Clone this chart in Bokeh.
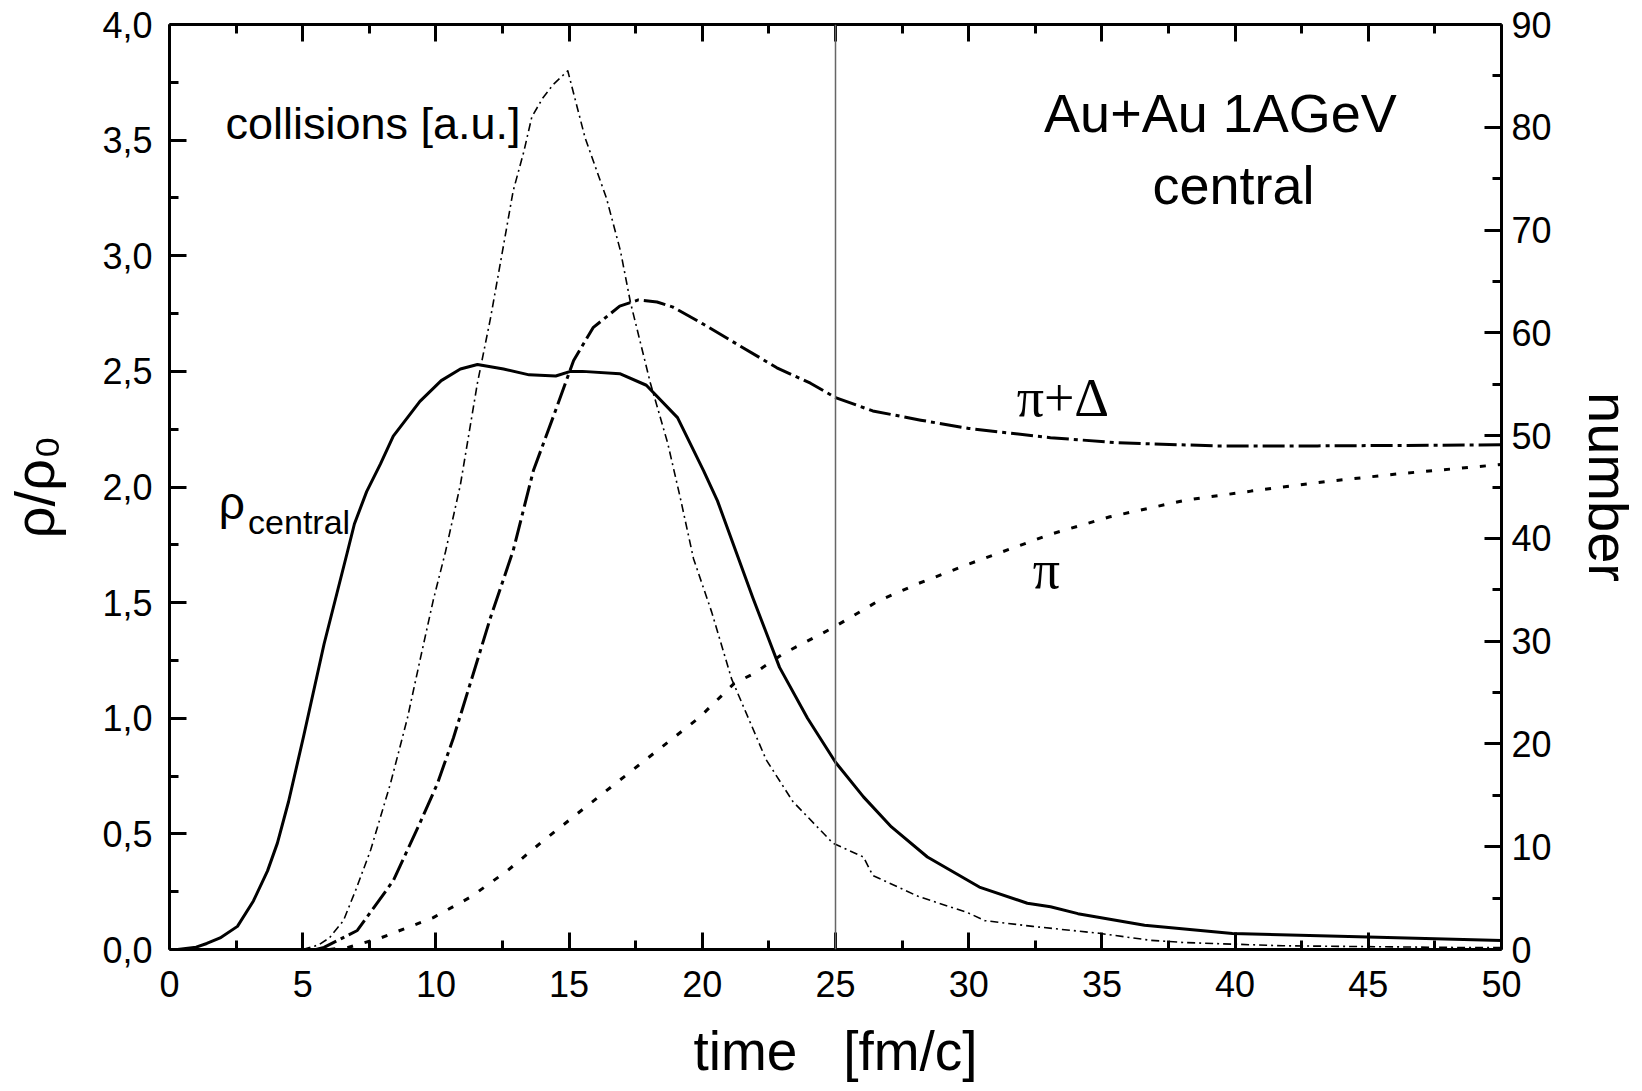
from bokeh.plotting import figure
from bokeh.models import Range1d, LinearAxis, FixedTicker, Span, Label, CustomJSTickFormatter
from bokeh.embed import file_html
from bokeh.resources import INLINE

# ---- data ----
rho_t = [0.3, 1.0, 1.4, 1.9, 2.55, 3.15, 3.68, 4.05, 4.47, 5.03, 5.8, 6.68, 6.94, 7.4, 7.92, 8.4,
         9.4, 10.2, 10.92, 11.56, 12.05, 12.54, 13.5, 14.5, 15.05, 15.5, 16.9, 17.9, 19.07, 20.05,
         20.57, 21.9, 22.9, 23.95, 25.0, 26.05, 27.1, 28.45, 30.4, 32.2, 33.07, 34.1, 36.6, 39.9, 45.0, 50.0]
rho_v = [0.0, 0.01, 0.026, 0.05, 0.10, 0.21, 0.34, 0.46, 0.64, 0.92, 1.32, 1.72, 1.84, 1.98, 2.10, 2.22,
         2.37, 2.46, 2.51, 2.53, 2.52, 2.51, 2.485, 2.48, 2.50, 2.50, 2.49, 2.44, 2.30, 2.07,
         1.94, 1.52, 1.22, 1.00, 0.81, 0.66, 0.53, 0.40, 0.27, 0.20, 0.185, 0.155, 0.105, 0.069, 0.054, 0.039]

coll_t = [5.0, 5.6, 6.0, 6.53, 7.0, 7.55, 8.3, 8.93, 9.42, 9.9, 10.36, 10.92, 11.56, 12.05, 12.5, 12.9,
          13.3, 13.6, 14.0, 14.4, 14.95, 15.6, 16.4, 16.93, 17.3, 18.05, 18.7, 19.18, 19.67, 20.35, 21.1,
          22.4, 23.4, 24.9, 26.05, 26.4, 28.1, 29.95, 30.6, 32.4, 34.9, 36.8, 38.1, 41.8, 48.1, 50.0]
coll_v = [0.0, 0.02, 0.05, 0.125, 0.26, 0.43, 0.72, 1.00, 1.26, 1.51, 1.72, 2.01, 2.45, 2.73, 3.02, 3.28,
          3.45, 3.60, 3.68, 3.74, 3.80, 3.51, 3.25, 3.02, 2.80, 2.45, 2.19, 1.95, 1.69, 1.46, 1.17,
          0.82, 0.64, 0.46, 0.40, 0.32, 0.23, 0.16, 0.125, 0.10, 0.07, 0.04, 0.03, 0.016, 0.009, 0.008]

pid_t = [5.5, 5.8, 7.05, 8.4, 9.4, 10.05, 10.66, 11.4, 12.05, 12.9, 13.66, 14.4, 15.17, 15.9, 16.9,
         17.6, 18.3, 18.9, 20.0, 21.3, 22.8, 24.06, 25.0, 26.4, 28.2, 30.0, 33.07, 35.6, 39.3, 43.1, 50.0]
pid_n = [0.0, 0.2, 1.85, 6.7, 12.3, 16.1, 20.6, 26.8, 32.3, 38.8, 46.6, 51.8, 57.3, 60.5, 62.6,
         63.2, 63.0, 62.5, 60.9, 58.9, 56.6, 55.1, 53.7, 52.4, 51.5, 50.7, 49.8, 49.3, 49.0, 49.0, 49.1]

pi_t = [6.0, 6.7, 7.9, 9.9, 11.3, 12.7, 13.9, 15.3, 17.6, 19.9, 21.2, 21.9, 23.05, 24.9, 26.6, 28.1,
        30.0, 33.07, 35.3, 38.1, 40.6, 43.5, 46.2, 49.6, 50.0]
pi_n = [0.0, 0.2, 1.1, 3.1, 5.1, 7.7, 10.3, 13.2, 17.9, 22.6, 25.9, 26.8, 28.8, 31.3, 33.9, 35.6,
        37.5, 40.4, 42.1, 43.7, 44.6, 45.55, 46.3, 47.1, 47.2]

vline_t = 25

x_ticks = [0, 5, 10, 15, 20, 25, 30, 35, 40, 45, 50]
x_minor = [2.5, 7.5, 12.5, 17.5, 22.5, 27.5, 32.5, 37.5, 42.5, 47.5]
left_ticks = [0.0, 0.5, 1.0, 1.5, 2.0, 2.5, 3.0, 3.5, 4.0]
left_labels = ["0,0", "0,5", "1,0", "1,5", "2,0", "2,5", "3,0", "3,5", "4,0"]
left_minor = [0.25, 0.75, 1.25, 1.75, 2.25, 2.75, 3.25, 3.75]
right_ticks = [0, 10, 20, 30, 40, 50, 60, 70, 80, 90]
right_minor = [5, 15, 25, 35, 45, 55, 65, 75, 85]

FONT = "Liberation Sans"
SERIF = "Liberation Serif"

p = figure(width=1642, height=1091, output_backend="svg", toolbar_location=None,
           x_range=Range1d(0, 50), y_range=Range1d(0, 4),
           min_border_left=169, min_border_right=141, min_border_top=24, min_border_bottom=142)
p.extra_y_ranges = {"num": Range1d(0, 90)}
p.grid.visible = False
p.outline_line_color = None
p.background_fill_color = "white"
p.border_fill_color = "white"


def style_axis(ax, ticker, label_size="36px"):
    ax.ticker = ticker
    ax.axis_line_width = 3
    ax.axis_line_color = "black"
    ax.major_tick_line_width = 3
    ax.minor_tick_line_width = 3
    ax.major_tick_in = 17
    ax.major_tick_out = 0
    ax.minor_tick_in = 9
    ax.minor_tick_out = 0
    ax.major_label_text_font = FONT
    ax.major_label_text_font_size = label_size
    ax.major_label_text_color = "black"
    ax.axis_label_text_font = FONT
    ax.axis_label_text_font_style = "normal"
    ax.axis_label_text_font_size = "56px"
    ax.axis_label_text_color = "black"


xa = p.xaxis[0]
style_axis(xa, FixedTicker(ticks=x_ticks, minor_ticks=x_minor))
xa.major_label_standoff = 21
xa.axis_label = "time\u00a0\u00a0\u00a0[fm/c]"
xa.axis_label_text_font_size = "55px"
xa.axis_label_standoff = 20

ya = p.yaxis[0]
style_axis(ya, FixedTicker(ticks=left_ticks, minor_ticks=left_minor))
ya.major_label_overrides = {t: s for t, s in zip(left_ticks, left_labels)}
ya.major_label_standoff = 17
ya.axis_label = "\u03c1/\u03c1\u2080"
ya.axis_label_standoff = 33

ra = LinearAxis(y_range_name="num")
style_axis(ra, FixedTicker(ticks=right_ticks, minor_ticks=right_minor))
ra.major_label_standoff = 10
ra.axis_label = "number"
ra.axis_label_standoff = 22
p.add_layout(ra, "right")

ta = LinearAxis()
style_axis(ta, FixedTicker(ticks=x_ticks, minor_ticks=x_minor))
ta.formatter = CustomJSTickFormatter(code="return '';")
ta.major_label_standoff = 0
p.add_layout(ta, "above")

# vertical line at t = 25
p.add_layout(Span(location=vline_t, dimension="height", line_color="#666666", line_width=1.5))

# curves
p.line(coll_t, coll_v, line_color="black", line_width=1.6, line_dash="8 4 2 4", line_join="round")
p.line(pi_t, pi_n, y_range_name="num", line_color="black", line_width=3, line_dash="6 12")
p.line(pid_t, pid_n, y_range_name="num", line_color="black", line_width=3, line_dash="22 5 4 5", line_join="round")
p.line(rho_t, rho_v, line_color="black", line_width=3, line_join="round")

# annotations (y = vertical centre of the text)
def lab(x, y, text, size, font=FONT, align="left"):
    p.add_layout(Label(x=x, y=y, text=text, text_font=font, text_font_size=size,
                       text_color="black", text_align=align, text_baseline="middle"))

lab(2.1, 3.57, "collisions [a.u.]", "45px")
lab(39.45, 3.617, "Au+Au 1AGeV", "54px", align="center")
lab(39.94, 3.306, "central", "54px", align="center")
lab(1.85, 1.932, "\u03c1", "46px")
lab(2.95, 1.850, "central", "34px")
lab(31.8, 2.386, "\u03c0+\u0394", "54px", font=SERIF)
lab(32.4, 1.642, "\u03c0", "54px", font=SERIF)

open("out.html", "w").write(file_html(p, INLINE))
